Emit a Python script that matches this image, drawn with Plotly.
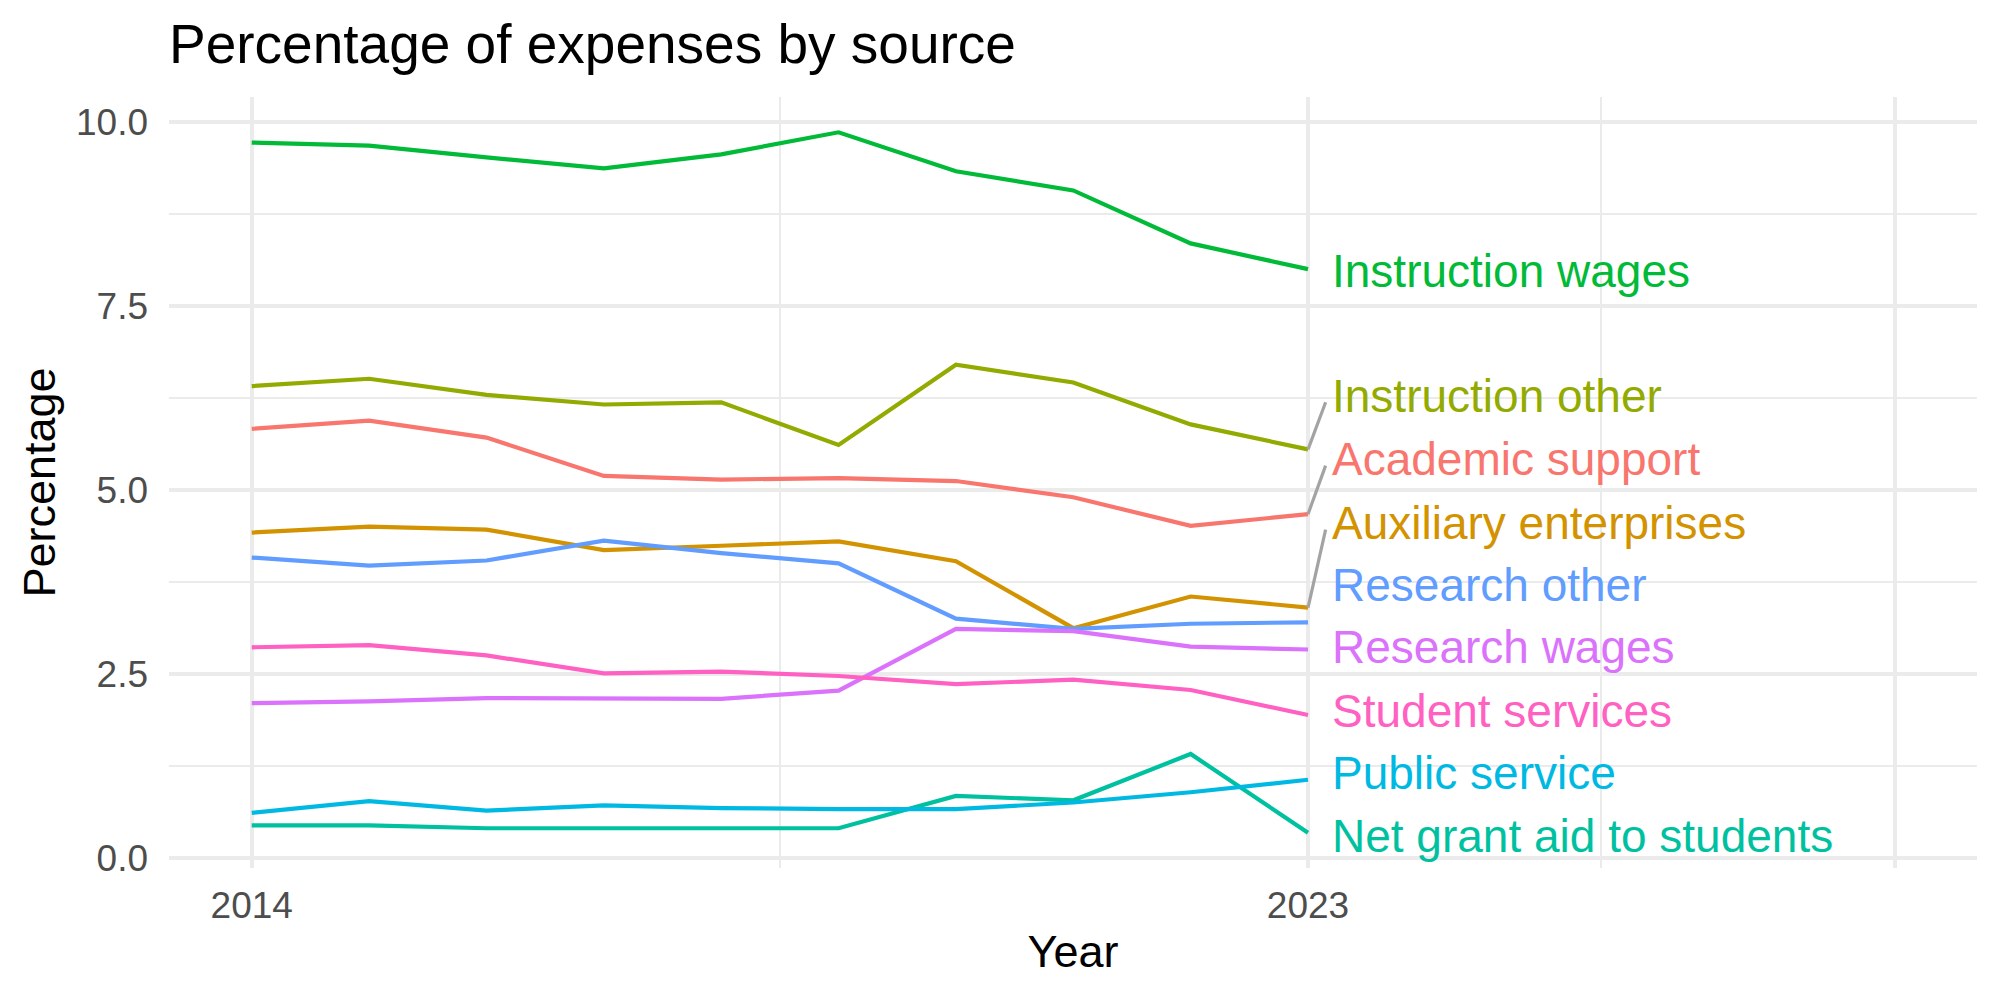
import plotly.graph_objects as go

years = list(range(2014, 2024))

series_names = [
    "Academic support",
    "Auxiliary enterprises",
    "Instruction other",
    "Instruction wages",
    "Net grant aid to students",
    "Public service",
    "Research other",
    "Research wages",
    "Student services",
]

academic_support = [5.83, 5.94, 5.71, 5.19, 5.14, 5.16, 5.12, 4.90, 4.51, 4.67]
auxiliary_enterprises = [4.42, 4.50, 4.46, 4.18, 4.24, 4.30, 4.03, 3.12, 3.55, 3.40]
instruction_other = [6.41, 6.51, 6.29, 6.16, 6.19, 5.61, 6.70, 6.46, 5.89, 5.55]
instruction_wages = [9.72, 9.68, 9.52, 9.37, 9.56, 9.86, 9.33, 9.07, 8.35, 8.00]
net_grant_aid = [0.44, 0.44, 0.40, 0.40, 0.40, 0.40, 0.84, 0.78, 1.41, 0.34]
public_service = [0.61, 0.77, 0.64, 0.71, 0.675, 0.66, 0.66, 0.75, 0.89, 1.06]
research_other = [4.08, 3.97, 4.04, 4.31, 4.14, 4.00, 3.25, 3.11, 3.18, 3.20]
research_wages = [2.10, 2.125, 2.17, 2.165, 2.16, 2.27, 3.11, 3.08, 2.87, 2.83]
student_services = [2.86, 2.89, 2.75, 2.505, 2.53, 2.47, 2.36, 2.42, 2.28, 1.94]

series_values = [
    academic_support,
    auxiliary_enterprises,
    instruction_other,
    instruction_wages,
    net_grant_aid,
    public_service,
    research_other,
    research_wages,
    student_services,
]

# repelled label positions (y, in data units)
label_y = [5.42, 4.55, 6.28, 7.98, 0.295, 1.15, 3.71, 2.86, 2.00]

colors = ["#F8766D", "#D39200", "#93AA00", "#00BA38", "#00C19F",
          "#00B9E3", "#619CFF", "#DB72FB", "#FF61C3"]

x_tick_vals = [2014, 2023, 2028]
x_tick_text = ["2014", "2023", ""]
x_minor_vals = [2018.5, 2025.5]
y_tick_vals = [0, 2.5, 5, 7.5, 10]
y_tick_text = ["0.0", "2.5", "5.0", "7.5", "10.0"]
y_minor_vals = [1.25, 3.75, 6.25, 8.75]

FONT = "Liberation Sans, Arial, Helvetica, sans-serif"
GRID = "#EBEBEB"

fig = go.Figure()

label_x = years[-1] + 0.19
seg_x = years[-1] + 0.15

for name, vals, col, ly in zip(series_names, series_values, colors, label_y):
    fig.add_trace(go.Scatter(
        x=years, y=vals, mode="lines", name=name,
        line=dict(color=col, width=4.2),
        showlegend=False, hoverinfo="x+y+name",
    ))

# repel segments
for name, vals, col, ly in zip(series_names, series_values, colors, label_y):
    if abs(ly - vals[-1]) > 0.6:
        fig.add_trace(go.Scatter(
            x=[years[-1], seg_x], y=[vals[-1], ly - 0.09], mode="lines",
            line=dict(color="#A3A3A3", width=3.2), showlegend=False,
            hoverinfo="skip",
        ))

for name, vals, col, ly in zip(series_names, series_values, colors, label_y):
    fig.add_annotation(
        x=label_x, y=ly, text=name, showarrow=False,
        xanchor="left", yanchor="middle", xref="x", yref="y",
        font=dict(family=FONT, size=46, color=col),
    )

fig.update_layout(
    width=2000, height=1000,
    margin=dict(l=169, r=23, t=97, b=132, pad=0),
    paper_bgcolor="white", plot_bgcolor="white",
    font=dict(family=FONT, color="black"),
    title=dict(
        text="Percentage of expenses by source",
        x=0, xref="paper", xanchor="left",
        y=0.956, yref="container", yanchor="middle",
        font=dict(family=FONT, size=55, color="black"),
    ),
    xaxis=dict(
        range=[2013.295, 2028.70],
        tickmode="array", tickvals=x_tick_vals, ticktext=x_tick_text,
        showgrid=True, gridcolor=GRID, gridwidth=4.2,
        minor=dict(tickvals=x_minor_vals, showgrid=True, gridcolor=GRID, gridwidth=2.1),
        zeroline=False, showline=False, ticks="",
        tickfont=dict(family=FONT, size=37, color="#4D4D4D"),
        ticklabelstandoff=12,
        title=dict(text="Year", font=dict(family=FONT, size=45, color="black"), standoff=10),
    ),
    yaxis=dict(
        range=[-0.14, 10.34],
        tickmode="array", tickvals=y_tick_vals, ticktext=y_tick_text,
        showgrid=True, gridcolor=GRID, gridwidth=4.2,
        minor=dict(tickvals=y_minor_vals, showgrid=True, gridcolor=GRID, gridwidth=2.1),
        zeroline=False, showline=False, ticks="",
        tickfont=dict(family=FONT, size=37, color="#4D4D4D"),
        ticklabelstandoff=20,
        title=dict(text="Percentage", font=dict(family=FONT, size=45, color="black"), standoff=6),
    ),
)

fig.write_html("out.html")
